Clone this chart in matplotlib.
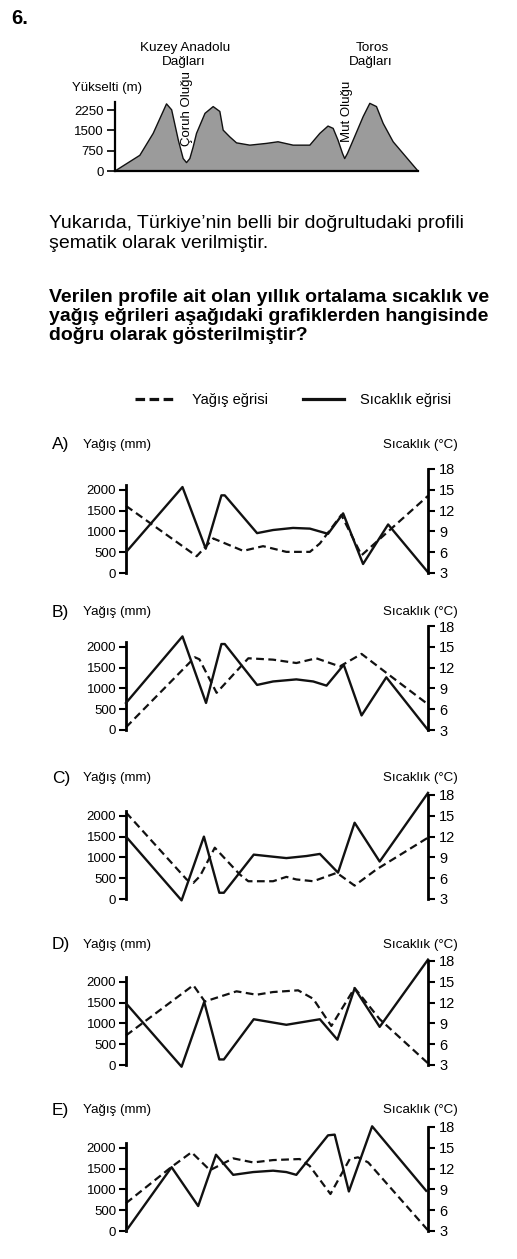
import matplotlib
matplotlib.use("Agg")
import matplotlib.pyplot as plt
from matplotlib.lines import Line2D

plt.rcParams['font.family'] = ['Liberation Sans', 'DejaVu Sans']

W, H = 517, 1259

# --- profile (elevation, m) along a 0-100 distance scale ---
profile_x = [0, 8.2, 12.6, 17.0, 18.7, 20.9, 22.5, 23.6, 24.7, 25.8, 26.9, 29.7, 32.4,
             34.6, 35.7, 37.9, 40.1, 44.5, 50.0, 53.8, 58.8, 64.3, 67.6, 70.3, 72.0,
             73.6, 75.1, 75.8, 76.7, 78.6, 81.9, 84.1, 86.3, 88.5, 91.8, 95.1, 100]
profile_elev = [0, 580, 1390, 2480, 2260, 1140, 460, 310, 460, 890, 1390, 2130, 2380,
                2200, 1510, 1260, 1040, 955, 1020, 1080, 955, 955, 1390, 1660, 1575,
                1140, 645, 460, 645, 1140, 2010, 2500, 2380, 1760, 1080, 645, 0]
profile_ticks = [0, 750, 1500, 2250]

# --- answer charts: temperature (°C, solid) and precipitation (mm, dashed) ---
options = ['A', 'B', 'C', 'D', 'E']

a_temp_x = [0, 18.7, 26.4, 31.6, 32.7, 43.4, 48.7, 55.3, 60.9, 66.9, 71.9, 78.5, 86.8, 100]
a_temp = [6.0, 15.4, 6.5, 14.2, 14.2, 8.75, 9.2, 9.5, 9.4, 8.65, 11.6, 4.3, 10.0, 3.1]
a_rain_x = [0, 23.4, 28.9, 38.8, 45.4, 53.1, 60.9, 64.2, 71.3, 78.0, 100]
a_rain = [1613, 403, 830, 532, 645, 508, 508, 710, 1395, 427, 1855]

b_temp_x = [0, 18.7, 26.5, 31.6, 32.7, 43.4, 48.7, 56.4, 62.0, 66.4, 72.1, 78.0, 86.2, 100]
b_temp = [6.9, 16.5, 6.9, 15.4, 15.4, 9.5, 10.0, 10.3, 10.0, 9.4, 12.4, 5.1, 10.6, 3.0]
b_rain_x = [0, 22.8, 24.3, 30.0, 40.5, 48.7, 56.4, 63.0, 70.8, 78.0, 86.8, 99.4]
b_rain = [65, 1748, 1700, 894, 1724, 1691, 1610, 1724, 1528, 1829, 1341, 650]

c_temp_x = [0, 18.4, 25.8, 30.9, 32.4, 42.3, 48.7, 53.1, 59.8, 64.2, 70.2, 75.7, 84.0, 100]
c_temp = [12.0, 2.8, 12.0, 3.9, 3.9, 9.4, 9.1, 8.9, 9.2, 9.5, 6.8, 14.0, 8.4, 18.3]
c_rain_x = [0, 20.1, 22.3, 24.5, 29.4, 37.7, 40.5, 48.7, 53.1, 56.4, 62.0, 69.8, 75.7, 82.9, 100]
c_rain = [2080, 468, 387, 550, 1233, 588, 427, 427, 532, 470, 427, 629, 322, 709, 1475]

d_temp_x = [0, 18.4, 25.9, 30.9, 32.4, 42.3, 53.1, 64.2, 70.0, 75.7, 84.0, 100]
d_temp = [11.9, 2.75, 12.1, 3.8, 3.8, 9.6, 8.8, 9.6, 6.65, 14.05, 8.5, 18.2]
d_rain_x = [0, 22.3, 26.1, 36.6, 43.2, 48.7, 57.0, 62.0, 68.0, 75.7, 84.0, 100]
d_rain = [710, 1918, 1526, 1771, 1689, 1754, 1795, 1591, 938, 1852, 1102, 41]

e_temp_x = [0, 15.1, 23.9, 29.8, 35.5, 42.1, 48.7, 53.1, 56.4, 66.9, 69.1, 73.8, 81.5, 99.4]
e_temp = [3.0, 12.2, 6.6, 14.0, 11.1, 11.5, 11.7, 11.5, 11.1, 16.8, 16.9, 8.7, 18.1, 8.8]
e_rain_x = [0, 15.1, 21.7, 27.8, 35.5, 42.1, 48.7, 57.5, 60.8, 67.7, 74.1, 76.8, 80.2, 100]
e_rain = [669, 1542, 1893, 1461, 1746, 1648, 1705, 1730, 1567, 889, 1730, 1771, 1648, 16]

temp_x = [a_temp_x, b_temp_x, c_temp_x, d_temp_x, e_temp_x]
temps = [a_temp, b_temp, c_temp, d_temp, e_temp]
rain_x = [a_rain_x, b_rain_x, c_rain_x, d_rain_x, e_rain_x]
rains = [a_rain, b_rain, c_rain, d_rain, e_rain]

rain_ticks = [0, 500, 1000, 1500, 2000]
temp_ticks = [3, 6, 9, 12, 15, 18]


def px_axes(fig, left, top, width, height):
    return fig.add_axes([left / W, 1 - (top + height) / H, width / W, height / H])


def ftext(fig, x, y, s, **kw):
    return fig.text(x / W, 1 - y / H, s, **kw)


fig = plt.figure(figsize=(W / 100, H / 100), dpi=100)
fig.patch.set_facecolor('white')

ftext(fig, 11, 19, '6.', fontsize=14.5, fontweight='bold', ha='left', va='center')

# profile
zero = 171
per750 = 20.3
ph = 2600 / 750 * per750
ax = px_axes(fig, 115, zero - ph, 303, ph)
ax.fill_between(profile_x, profile_elev, 0, facecolor='#9b9b9b', edgecolor='none')
ax.plot(profile_x, profile_elev, color='#111111', lw=1.0)
ax.set_xlim(0, 100)
ax.set_ylim(0, 2600)
ax.set_yticks(profile_ticks)
ax.set_xticks([])
for s in ['top', 'right']:
    ax.spines[s].set_visible(False)
ax.spines['left'].set_bounds(0, 2560)
ax.spines['left'].set_linewidth(1.6)
ax.spines['bottom'].set_linewidth(1.6)
ax.tick_params(axis='y', length=6, width=1.2, labelsize=9.5, pad=2)
ax.patch.set_alpha(0)

ftext(fig, 72, 88, 'Yükselti (m)', fontsize=9.5, ha='left', va='center')
ftext(fig, 185, 48, 'Kuzey Anadolu', fontsize=9.7, ha='center', va='center')
ftext(fig, 184, 62, 'Dağları', fontsize=9.7, ha='center', va='center')
ftext(fig, 372, 48, 'Toros', fontsize=9.7, ha='center', va='center')
ftext(fig, 371, 62, 'Dağları', fontsize=9.7, ha='center', va='center')
ftext(fig, 187, 109, 'Çoruh Oluğu', fontsize=9.5, rotation=90, ha='center', va='center')
ftext(fig, 347, 111, 'Mut Oluğu', fontsize=9.5, rotation=90, ha='center', va='center')

# question text
ftext(fig, 49, 223, 'Yukarıda, Türkiye’nin belli bir doğrultudaki profili', fontsize=14, ha='left', va='center')
ftext(fig, 49, 243, 'şematik olarak verilmiştir.', fontsize=14, ha='left', va='center')
bold_lines = ['Verilen profile ait olan yıllık ortalama sıcaklık ve',
              'yağış eğrileri aşağıdaki grafiklerden hangisinde',
              'doğru olarak gösterilmiştir?']
for i, line in enumerate(bold_lines):
    ftext(fig, 49, 297 + i * 19.5, line, fontsize=14, fontweight='bold', ha='left', va='center')

# legend
handles = [Line2D([], [], color='#111111', lw=2.3, ls=(0, (3.0, 1.4))),
           Line2D([], [], color='#111111', lw=2.3)]
fig.legend(handles, ['Yağış eğrisi', 'Sıcaklık eğrisi'], loc='center',
           bbox_to_anchor=(293 / W, 1 - 400 / H), ncol=2, frameon=False,
           fontsize=10.5, handlelength=2.8, handletextpad=1.1, columnspacing=2.4)

# answer charts
zeros = [573, 730, 899, 1065, 1231]
header_off = [128, 118, 121, 120, 121]
per500 = 20.8
mm_lo, mm_hi = -150, 2600
ch = (mm_hi - mm_lo) / 500 * per500

for i, opt in enumerate(options):
    z = zeros[i]
    top = z - mm_hi / 500 * per500
    ax = px_axes(fig, 126, top, 302, ch)
    ax.set_xlim(0, 100)
    ax.set_ylim(mm_lo, mm_hi)
    ax.plot(rain_x[i], rains[i], color='#111111', lw=1.6, ls=(0, (3.5, 2.0)), clip_on=False)
    ax.set_yticks(rain_ticks)
    ax.set_xticks([])
    for s in ['top', 'right', 'bottom']:
        ax.spines[s].set_visible(False)
    ax.spines['left'].set_bounds(0, 2110)
    ax.spines['left'].set_linewidth(2.0)
    ax.tick_params(axis='y', length=5, width=1.5, labelsize=9.5, pad=2)
    ax.patch.set_alpha(0)

    tx = ax.twinx()
    tx.set_ylim(3 + mm_lo * 0.006, 3 + mm_hi * 0.006)
    tx.plot(temp_x[i], temps[i], color='#111111', lw=1.7, clip_on=False)
    tx.set_yticks(temp_ticks)
    for s in ['top', 'left', 'bottom']:
        tx.spines[s].set_visible(False)
    tx.spines['right'].set_bounds(3, 18)
    tx.spines['right'].set_linewidth(2.0)
    tx.tick_params(axis='y', length=5, width=1.5, labelsize=10.5, pad=3)

    hy = z - header_off[i]
    ftext(fig, 52, hy, f'{opt})', fontsize=12.5, ha='left', va='center')
    ftext(fig, 83, hy, 'Yağış (mm)', fontsize=9.6, ha='left', va='center')
    ftext(fig, 458, hy, 'Sıcaklık (°C)', fontsize=9.6, ha='right', va='center')

fig.savefig('out.png', dpi=100, facecolor='white')
